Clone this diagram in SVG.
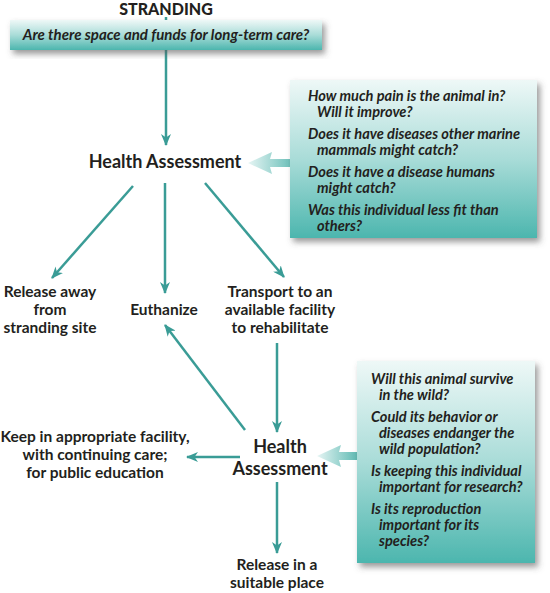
<svg xmlns="http://www.w3.org/2000/svg" width="550" height="593" viewBox="0 0 550 593">
<defs>
<linearGradient id="boxg" x1="0" y1="0" x2="0" y2="1">
<stop offset="0" stop-color="#eef8f7"/>
<stop offset="0.5" stop-color="#a9dcd8"/>
<stop offset="1" stop-color="#4cb6ae"/>
</linearGradient>
<linearGradient id="fatg" x1="0" y1="0" x2="1" y2="0">
<stop offset="0" stop-color="#e6f5f4"/>
<stop offset="1" stop-color="#5db9b2"/>
</linearGradient>
<filter id="sh" x="-10%" y="-10%" width="130%" height="140%">
<feDropShadow dx="3" dy="4" stdDeviation="3" flood-color="#555" flood-opacity="0.6"/>
</filter>
<marker id="ah" viewBox="0 0 12 10" refX="11" refY="5" markerWidth="12" markerHeight="10" markerUnits="userSpaceOnUse" orient="auto">
<path d="M0,0 L12,5 L0,10 L3.5,5 Z" fill="#3a9c96"/>
</marker>
<style>
.lbl{font-family:"Lato","Open Sans",sans-serif;font-weight:700;fill:#231f20;text-anchor:middle}
.big{font-size:18px}
.mid{font-size:15.5px}
.q{font-family:"Lato","Open Sans",sans-serif;font-style:italic;font-weight:700;font-size:14.6px;fill:#231f20}
.con{stroke:#3a9c96;stroke-width:2.5;fill:none;marker-end:url(#ah)}
.box{fill:url(#boxg);filter:url(#sh)}
</style>
</defs>

<g id="connectors">
<line x1="166" y1="17" x2="166" y2="22" stroke="#3a9c96" stroke-width="2.5"/>
<line class="con" x1="166" y1="50" x2="166" y2="145"/>
<line class="con" x1="133" y1="186" x2="52" y2="278"/>
<line class="con" x1="165" y1="183" x2="165" y2="293"/>
<line class="con" x1="205" y1="183" x2="284" y2="277"/>
<line class="con" x1="277" y1="343" x2="277" y2="432"/>
<line class="con" x1="245" y1="430" x2="165" y2="325"/>
<line class="con" x1="240" y1="457" x2="187" y2="457"/>
<line class="con" x1="277" y1="482" x2="277" y2="553"/>
<polygon points="248,163 272,152 270,159 297,159 297,167 270,167 272,174" fill="url(#fatg)"/>
<polygon points="317,456 341,445 339,452 358,452 358,460 339,460 341,467" fill="url(#fatg)"/>
</g>

<g id="stranding">
<text class="lbl" x="166" y="15" style="font-size:16px;font-weight:900">STRANDING</text>
</g>

<g id="box-space">
<rect class="box" x="10" y="20" width="312" height="30"/>
<text class="q" x="166" y="40" text-anchor="middle" style="font-size:15px">Are there space and funds for long-term care?</text>
</g>

<g id="health1">
<text class="lbl big" x="165" y="168">Health Assessment</text>
</g>

<g id="questions1">
<rect class="box" x="290" y="80" width="247" height="158"/>
<text class="q" x="308" y="101">How much pain is the animal in?</text>
<text class="q" x="317" y="117">Will it improve?</text>
<text class="q" x="308" y="139">Does it have diseases other marine</text>
<text class="q" x="317" y="155">mammals might catch?</text>
<text class="q" x="308" y="177">Does it have a disease humans</text>
<text class="q" x="317" y="193">might catch?</text>
<text class="q" x="308" y="215">Was this individual less fit than</text>
<text class="q" x="317" y="231">others?</text>
</g>

<g id="release-away">
<text class="lbl mid" x="50" y="297">Release away</text>
<text class="lbl mid" x="50" y="315">from</text>
<text class="lbl mid" x="50" y="333">stranding site</text>
</g>

<g id="euthanize">
<text class="lbl mid" x="164" y="315">Euthanize</text>
</g>

<g id="transport">
<text class="lbl mid" x="280" y="297">Transport to an</text>
<text class="lbl mid" x="280" y="315">available facility</text>
<text class="lbl mid" x="280" y="333">to rehabilitate</text>
</g>

<g id="health2">
<text class="lbl big" x="280" y="453">Health</text>
<text class="lbl big" x="280" y="475">Assessment</text>
</g>

<g id="keep">
<text class="lbl mid" x="95" y="442">Keep in appropriate facility,</text>
<text class="lbl mid" x="95" y="460">with continuing care;</text>
<text class="lbl mid" x="95" y="478">for public education</text>
</g>

<g id="release-suitable">
<text class="lbl mid" x="277" y="570">Release in a</text>
<text class="lbl mid" x="277" y="588">suitable place</text>
</g>

<g id="questions2">
<rect class="box" x="357" y="361" width="178" height="202"/>
<text class="q" x="371" y="384">Will this animal survive</text>
<text class="q" x="379" y="400">in the wild?</text>
<text class="q" x="371" y="422">Could its behavior or</text>
<text class="q" x="379" y="438">diseases endanger the</text>
<text class="q" x="379" y="454">wild population?</text>
<text class="q" x="371" y="476">Is keeping this individual</text>
<text class="q" x="379" y="492">important for research?</text>
<text class="q" x="371" y="514">Is its reproduction</text>
<text class="q" x="379" y="530">important for its</text>
<text class="q" x="379" y="546">species?</text>
</g>
</svg>
